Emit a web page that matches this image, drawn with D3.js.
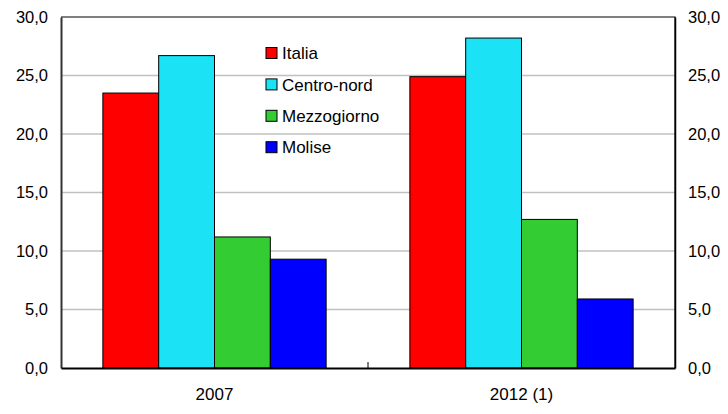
<!DOCTYPE html>
<html>
<head>
<meta charset="utf-8">
<script src="https://cdn.jsdelivr.net/npm/d3@7"></script>
<style>
  html, body { margin: 0; padding: 0; background: #fff; }
  svg { display: block; }
  text { font-family: "Liberation Sans", Arial, sans-serif; fill: #000; }
</style>
</head>
<body>
<svg id="chart" width="728" height="414"></svg>
<script>
// Periods on the horizontal axis
const categories = ["2007", "2012 (1)"];
// Areas compared in each period
const series = ["Italia", "Centro-nord", "Mezzogiorno", "Molise"];
const seriesColors = ["#ff0000", "#1ce2f6", "#33cc33", "#0000ff"];
// Values per area, one entry per period
const italia = [23.5, 24.9];
const centroNord = [26.7, 28.2];
const mezzogiorno = [11.2, 12.7];
const molise = [9.3, 5.9];
const seriesValues = [italia, centroNord, mezzogiorno, molise];
// Value axis ticks
const yTicks = [0, 5, 10, 15, 20, 25, 30];

const FONT = "Liberation Sans, Arial, sans-serif";
const svg = d3.select("#chart");
const margin = { left: 61, right: 53, top: 17, bottom: 46 };
const W = 728, H = 414;
const plotL = margin.left, plotR = W - margin.right;
const plotT = margin.top, plotB = H - margin.bottom;

const y = d3.scaleLinear().domain([0, 30]).range([plotB, plotT]);
const x0 = d3.scaleBand().domain(categories).range([plotL, plotR]).padding(0);
const x1 = d3.scaleBand().domain(series).range([0, x0.bandwidth()])
  .paddingInner(0).paddingOuter(0.75);

const fmt = v => d3.format(".1f")(v).replace(".", ",");

// Horizontal gridlines
svg.append("g")
  .selectAll("line")
  .data(yTicks.filter(t => t > 0 && t < 30))
  .join("line")
  .attr("x1", plotL).attr("x2", plotR)
  .attr("y1", d => y(d)).attr("y2", d => y(d))
  .attr("stroke", "#c0c0c0").attr("stroke-width", 1.5);

// Bars
const groups = svg.append("g")
  .selectAll("g")
  .data(categories)
  .join("g")
  .attr("transform", d => `translate(${x0(d)},0)`);

groups.selectAll("rect")
  .data((c, ci) => series.map((s, si) => ({ s, si, v: seriesValues[si][ci] })))
  .join("rect")
  .attr("x", d => x1(d.s))
  .attr("width", x1.bandwidth())
  .attr("y", d => y(d.v))
  .attr("height", d => y(0) - y(d.v))
  .attr("fill", d => seriesColors[d.si])
  .attr("stroke", "#000")
  .attr("stroke-width", 1);

// Plot frame: top and right border
svg.append("path")
  .attr("d", `M${plotL},${plotT}H${plotR}V${plotB}`)
  .attr("fill", "none").attr("stroke", "#000").attr("stroke-width", 1.2);

// Left value axis
const yAxisL = svg.append("g")
  .attr("transform", `translate(${plotL},0)`)
  .call(d3.axisLeft(y).tickValues(yTicks).tickFormat(fmt).tickSize(0).tickPadding(13));
yAxisL.select(".domain").attr("stroke", "#333").attr("stroke-width", 2);
yAxisL.selectAll("text").attr("font-size", 16.5).attr("font-family", FONT);

// Right value axis
const yAxisR = svg.append("g")
  .attr("transform", `translate(${plotR},0)`)
  .call(d3.axisRight(y).tickValues(yTicks).tickFormat(fmt).tickSize(0).tickPadding(13));
yAxisR.select(".domain").attr("stroke", "#000").attr("stroke-width", 1.5);
yAxisR.selectAll("text").attr("font-size", 16.5).attr("font-family", FONT);

// Category axis
const xAxis = svg.append("g")
  .attr("transform", `translate(0,${plotB})`)
  .call(d3.axisBottom(x0).tickSize(0).tickPadding(20));
xAxis.select(".domain").attr("stroke", "#000").attr("stroke-width", 2);
xAxis.selectAll("text").attr("font-size", 17).attr("font-family", FONT);

// Separator tick between the two periods
svg.append("line")
  .attr("x1", x0(categories[1])).attr("x2", x0(categories[1]))
  .attr("y1", plotB).attr("y2", plotB - 6)
  .attr("stroke", "#000").attr("stroke-width", 1);

// Legend
const legend = svg.append("g").attr("transform", "translate(266,53)");
const rows = legend.selectAll("g")
  .data(series)
  .join("g")
  .attr("transform", (d, i) => `translate(0,${i * 31.4})`);
rows.append("rect")
  .attr("x", 0).attr("y", -5.5).attr("width", 11).attr("height", 11)
  .attr("fill", (d, i) => seriesColors[i])
  .attr("stroke", "#000").attr("stroke-width", 1);
rows.append("text")
  .attr("x", 16).attr("y", 0).attr("dy", "0.36em")
  .attr("font-size", 17)
  .attr("font-family", FONT)
  .text(d => d);
</script>
</body>
</html>
